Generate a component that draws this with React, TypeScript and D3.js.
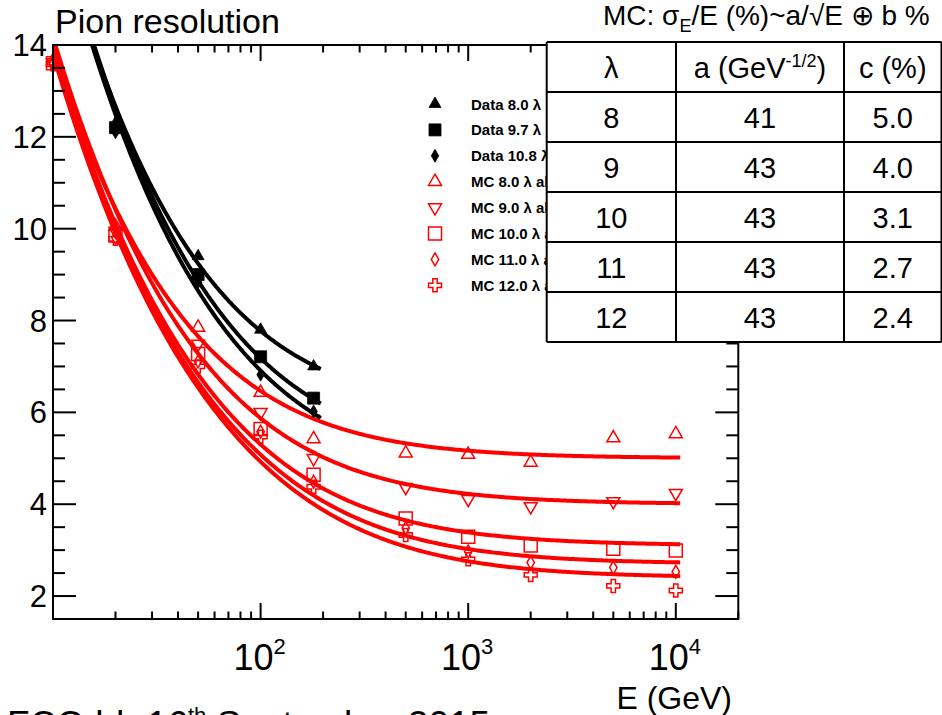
import React from 'react';
import * as d3 from 'd3';

const W = 942;
const H = 715;
const FONT = '"Liberation Sans", Arial, Helvetica, sans-serif';

// Beam energies (GeV)
const mcEnergies = [10, 20, 50, 100, 180, 500, 1000, 2000, 5000, 10000];
const dataEnergies = [20, 50, 100, 180];

// Measured resolution sigma_E/E (%)
const data80 = [12.3, 9.4, 7.8, 7.0];
const data97 = [12.2, 9.0, 7.21, 6.31];
const data108 = [12.1, 8.83, 6.82, 6.02];
const dataFitA = [50, 52, 52];
const dataFitC = [5.95, 4.95, 4.55];
const dataLabels = ['Data 8.0 λ', 'Data 9.7 λ', 'Data 10.8 λ'];

// Simulated resolution sigma_E/E (%)
const mc8 = [13.65, 10.05, 7.85, 6.43, 5.42, 5.11, 5.08, 4.91, 5.44, 5.53];
const mc9 = [13.62, 9.95, 7.49, 6.0, 5.0, 4.37, 4.11, 3.95, 4.06, 4.24];
const mc10 = [13.6, 9.85, 7.27, 5.64, 4.64, 3.69, 3.29, 3.1, 3.03, 2.99];
const mc11 = [13.6, 9.8, 7.11, 5.58, 4.49, 3.48, 2.97, 2.73, 2.62, 2.53];
const mc12 = [13.58, 9.78, 7.0, 5.47, 4.38, 3.33, 2.8, 2.46, 2.22, 2.12];
const mcLabels = ['MC 8.0 λ all', 'MC 9.0 λ all', 'MC 10.0 λ all', 'MC 11.0 λ all', 'MC 12.0 λ all'];

// Fit parameters of the simulated samples
const tableLambda = ['8', '9', '10', '11', '12'];
const tableA = [41, 43, 43, 43, 43];
const tableC = [5.0, 4.0, 3.1, 2.7, 2.4];

const yTicks = [2, 4, 6, 8, 10, 12, 14];
const xDecades = [2, 3, 4];

const plot = { left: 53, right: 738.3, top: 45, bottom: 619 };
const x = d3.scaleLog().domain([10, 20000]).range([plot.left, plot.right]);
const y = d3.scaleLinear().domain([1.5, 14]).range([plot.bottom, plot.top]);

const resolution = (a: number, c: number) => (e: number) => Math.sqrt((a * a) / e + c * c);

function fitPath(a: number, c: number, eMax: number) {
  const f = resolution(a, c);
  const es = d3.range(0, 301).map((i) => Math.pow(10, 1 + (i / 300) * (Math.log10(eMax) - 1)));
  return d3
    .line<number>()
    .x((e) => x(e))
    .y((e) => y(f(e)))(es) as string;
}

type Marker = { shape: d3.SymbolType; size: number; rotate?: number; filled: boolean; color: string };

const dataMarkers: Marker[] = [
  { shape: d3.symbolTriangle, size: 62, filled: true, color: '#000' },
  { shape: d3.symbolSquare, size: 144, filled: true, color: '#000' },
  { shape: d3.symbolDiamond, size: 48, filled: true, color: '#000' },
];
const mcMarkers: Marker[] = [
  { shape: d3.symbolTriangle, size: 73, filled: false, color: '#ff0000' },
  { shape: d3.symbolTriangle, size: 73, rotate: 180, filled: false, color: '#ff0000' },
  { shape: d3.symbolSquare, size: 169, filled: false, color: '#ff0000' },
  { shape: d3.symbolDiamond, size: 48, filled: false, color: '#ff0000' },
  { shape: d3.symbolCross, size: 94, filled: false, color: '#ff0000' },
];

function MarkerMark({ m, cx, cy }: { m: Marker; cx: number; cy: number }) {
  const d = d3.symbol().type(m.shape).size(m.size)() as string;
  return (
    <path
      d={d}
      transform={`translate(${cx},${cy})${m.rotate ? ` rotate(${m.rotate})` : ''}`}
      fill={m.filled ? m.color : 'none'}
      stroke={m.color}
      strokeWidth={m.filled ? 0.8 : 1.5}
    />
  );
}

export default function App() {
  const dataSeries = [data80, data97, data108];
  const mcSeries = [mc8, mc9, mc10, mc11, mc12];

  // Axis tick positions
  const yMinor = d3.range(1.5, 14.01, 0.5).filter((v) => Math.abs(v % 2) > 1e-6);
  const xMinor: number[] = [];
  for (let k = 1; k <= 4; k++) {
    for (let m = 2; m <= 9; m++) {
      const e = m * Math.pow(10, k);
      if (e <= 20000) xMinor.push(e);
    }
  }

  const legendX = 435;
  const legendTextX = 471;
  const legendY0 = 104;
  const legendStep = 25.9;
  const legendEntries = [
    ...dataMarkers.map((m, i) => ({ m, label: dataLabels[i] })),
    ...mcMarkers.map((m, i) => ({ m, label: mcLabels[i] })),
  ];

  const tbl = { left: 546.7, cols: [546.7, 676, 844, 941.5], top: 42, rowH: 50 };
  const tblBottom = tbl.top + tbl.rowH * 6;

  return (
    <svg
      width={W}
      height={H}
      style={{ position: 'absolute', left: 0, top: 0, background: '#fff' }}
      fontFamily={FONT}
    >
      <defs>
        <clipPath id="frame">
          <rect x={plot.left} y={plot.top} width={plot.right - plot.left} height={plot.bottom - plot.top} />
        </clipPath>
        <clipPath id="legendClip">
          <rect x={0} y={0} width={tbl.left} height={H} />
        </clipPath>
      </defs>
      <rect x={0} y={0} width={W} height={H} fill="#fff" />

      {/* Fit curves */}
      <g clipPath="url(#frame)" fill="none" strokeLinecap="butt">
        {tableA.map((a, i) => (
          <path key={`mcfit${i}`} d={fitPath(a, tableC[i], 10500)} stroke="#ff0000" strokeWidth={4} />
        ))}
        {dataFitA.map((a, i) => (
          <path key={`dfit${i}`} d={fitPath(a, dataFitC[i], 195)} stroke="#000" strokeWidth={4} />
        ))}
      </g>

      {/* Points */}
      <g>
        {mcSeries.map((s, i) =>
          s.map((v, j) => <MarkerMark key={`mc${i}-${j}`} m={mcMarkers[i]} cx={x(mcEnergies[j])} cy={y(v)} />)
        )}
        {dataSeries.map((s, i) =>
          s.map((v, j) => <MarkerMark key={`d${i}-${j}`} m={dataMarkers[i]} cx={x(dataEnergies[j])} cy={y(v)} />)
        )}
      </g>

      {/* Frame and ticks */}
      <g stroke="#000" strokeWidth={2} fill="none">
        <rect x={plot.left} y={plot.top} width={plot.right - plot.left} height={plot.bottom - plot.top} />
        {yTicks.map((v) => (
          <g key={`yt${v}`}>
            <line x1={plot.left} x2={plot.left + 23} y1={y(v)} y2={y(v)} />
            <line x1={plot.right} x2={plot.right - 23} y1={y(v)} y2={y(v)} />
          </g>
        ))}
        {yMinor.map((v) => (
          <g key={`ym${v}`}>
            <line x1={plot.left} x2={plot.left + 12} y1={y(v)} y2={y(v)} />
            <line x1={plot.right} x2={plot.right - 12} y1={y(v)} y2={y(v)} />
          </g>
        ))}
        {xDecades.map((k) => (
          <g key={`xt${k}`}>
            <line x1={x(10 ** k)} x2={x(10 ** k)} y1={plot.bottom} y2={plot.bottom - 16} />
            <line x1={x(10 ** k)} x2={x(10 ** k)} y1={plot.top} y2={plot.top + 16} />
          </g>
        ))}
        {xMinor.map((e) => (
          <g key={`xm${e}`}>
            <line x1={x(e)} x2={x(e)} y1={plot.bottom} y2={plot.bottom - 7.5} />
            <line x1={x(e)} x2={x(e)} y1={plot.top} y2={plot.top + 7.5} />
          </g>
        ))}
      </g>

      {/* Axis labels */}
      <g fontSize={31} textAnchor="end" fill="#000">
        {yTicks.map((v) => (
          <text key={`yl${v}`} x={47} y={y(v) + 11}>
            {v}
          </text>
        ))}
      </g>
      <g fill="#000">
        {xDecades.map((k) => (
          <text key={`xl${k}`} x={x(10 ** k) - 1} y={669.5} textAnchor="middle" fontSize={36}>
            10
            <tspan fontSize={22} dy={-16}>
              {k}
            </tspan>
          </text>
        ))}
      </g>
      <text x={732} y={709} textAnchor="end" fontSize={32} fill="#000">
        E (GeV)
      </text>
      <text x={55} y={33} fontSize={34} fill="#000">
        Pion resolution
      </text>

      {/* Legend */}
      <g clipPath="url(#legendClip)">
        {legendEntries.map((en, i) => (
          <g key={`lg${i}`}>
            <MarkerMark m={en.m} cx={legendX} cy={legendY0 + i * legendStep} />
            <text
              x={legendTextX}
              y={legendY0 + i * legendStep + 5.5}
              fontSize={15}
              fontWeight="bold"
              fill="#000"
            >
              {en.label}
            </text>
          </g>
        ))}
      </g>

      {/* Parameter table */}
      <text x={603} y={25} fontSize={28} fill="#000">
        MC: σ
        <tspan fontSize={18} dy={7}>
          E
        </tspan>
        <tspan dy={-7}>/E (%)~a/√E ⊕ b %</tspan>
      </text>
      <g>
        <rect x={tbl.left} y={tbl.top} width={W - tbl.left} height={tblBottom - tbl.top} fill="#fff" />
        <g stroke="#000" strokeWidth={2}>
          {d3.range(7).map((r) => (
            <line key={`tr${r}`} x1={tbl.left} x2={tbl.cols[3]} y1={tbl.top + r * tbl.rowH} y2={tbl.top + r * tbl.rowH} />
          ))}
          {tbl.cols.map((cx, c) => (
            <line key={`tc${c}`} x1={cx} x2={cx} y1={tbl.top} y2={tblBottom} />
          ))}
        </g>
        <g fontSize={29} textAnchor="middle" fill="#000">
          <text x={(tbl.cols[0] + tbl.cols[1]) / 2} y={tbl.top + 35.5}>
            λ
          </text>
          <text x={(tbl.cols[1] + tbl.cols[2]) / 2} y={tbl.top + 35.5}>
            a (GeV
            <tspan fontSize={18} dy={-11}>
              -1/2
            </tspan>
            <tspan dy={11}>)</tspan>
          </text>
          <text x={(tbl.cols[2] + tbl.cols[3]) / 2} y={tbl.top + 35.5}>
            c (%)
          </text>
          {tableLambda.map((l, i) => {
            const cy = tbl.top + (i + 1) * tbl.rowH + 35.5;
            return (
              <g key={`row${i}`}>
                <text x={(tbl.cols[0] + tbl.cols[1]) / 2} y={cy}>
                  {l}
                </text>
                <text x={(tbl.cols[1] + tbl.cols[2]) / 2} y={cy}>
                  {tableA[i]}
                </text>
                <text x={(tbl.cols[2] + tbl.cols[3]) / 2} y={cy}>
                  {tableC[i].toFixed(1)}
                </text>
              </g>
            );
          })}
        </g>
      </g>

      {/* Footer */}
      <text x={7} y={737} fontSize={37} fill="#000">
        FCC-hh 16
        <tspan fontSize={22} dy={-14}>
          th
        </tspan>
        <tspan dy={14}> September 2015</tspan>
      </text>
    </svg>
  );
}
